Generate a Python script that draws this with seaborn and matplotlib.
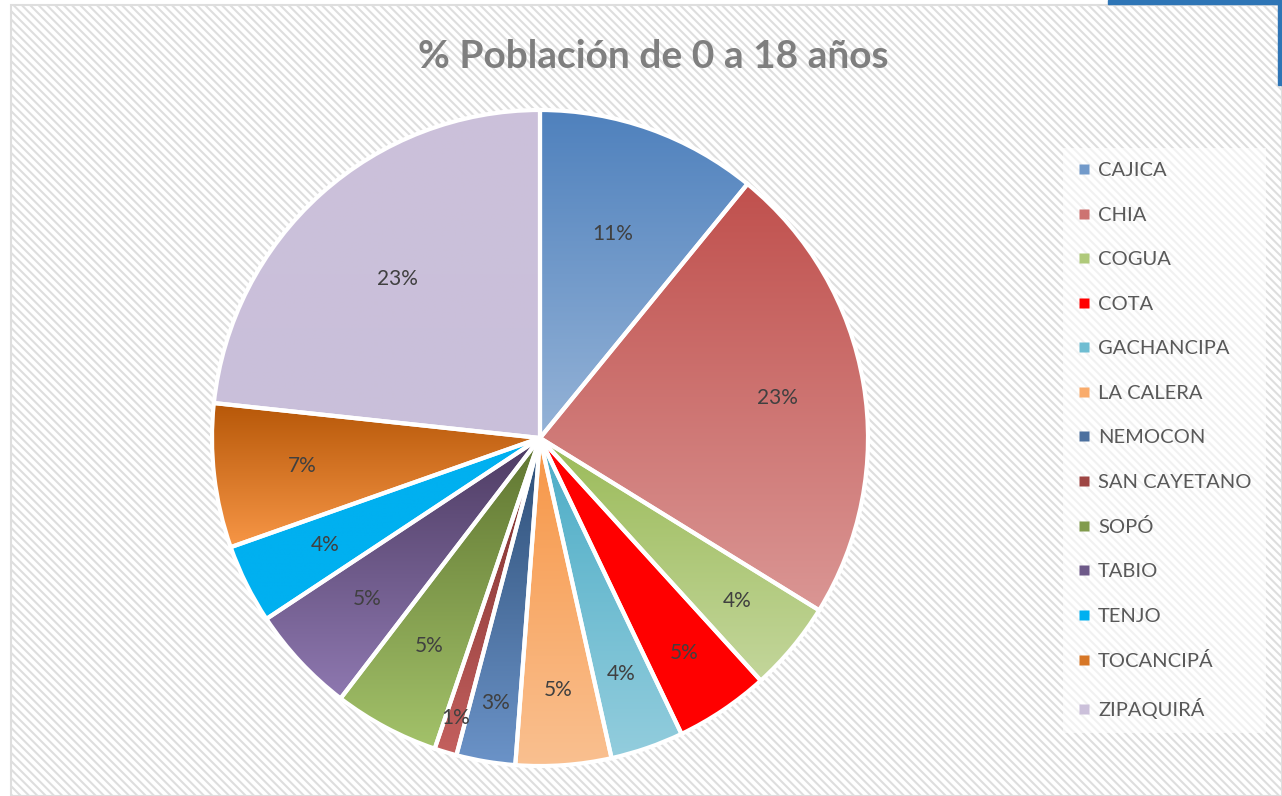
import numpy as np
import matplotlib.pyplot as plt
import seaborn as sns
from matplotlib.colors import LinearSegmentedColormap, to_rgb
from matplotlib.patches import Rectangle
from matplotlib.lines import Line2D

# ── Data ───────────────────────────────────────────────────────────────────────
MUNICIPIOS = ["CAJICA", "CHIA", "COGUA", "COTA", "GACHANCIPA", "LA CALERA",
              "NEMOCON", "SAN CAYETANO", "SOPÓ", "TABIO", "TENJO",
              "TOCANCIPÁ", "ZIPAQUIRÁ"]
PCT_0_18 = [10.9, 22.9, 4.45, 4.65, 3.6, 4.7, 2.9, 1.1, 5.2, 5.3, 3.9, 7.1, 23.3]

# gradient top -> bottom for each slice (Excel "linear down")
TOP_COLORS = ["#4F81BD", "#C0504D", "#9BBB59", "#FF0000", "#4BACC6", "#F79646",
              "#2C4D75", "#772C2A", "#5F7530", "#4D3B62", "#00B0F0", "#B65708",
              "#CCC1DA"]
BOT_COLORS = ["#95B3D7", "#DA9694", "#C3D69B", "#FF0000", "#93CDDD", "#FAC090",
              "#6B93C8", "#C4605E", "#A3C26A", "#8E78B0", "#00B0F0", "#F79646",
              "#C9BFDA"]
# radial position of each % label (fraction of radius)
LABEL_R = [0.66, 0.735, 0.78, 0.79, 0.76, 0.77, 0.82, 0.89, 0.72, 0.72, 0.73,
           0.73, 0.65]

# ── Setup ──────────────────────────────────────────────────────────────────────
sns.set_theme(style="white")
plt.rcParams["font.family"] = ["Lato", "DejaVu Sans"]
plt.rcParams["hatch.linewidth"] = 1.5

W, H = 1282, 796
fig = plt.figure(figsize=(W / 100, H / 100), dpi=100)
fig.patch.set_facecolor("white")

# hatched chart area with thin grey border
bg = Rectangle((11 / W, 0), 1 - 11 / W, 1 - 5 / H, transform=fig.transFigure,
               facecolor="white", edgecolor="#dedede", hatch="\\\\\\\\",
               linewidth=1.5, zorder=-5)
fig.patches.append(bg)
# excel selection border top right
fig.patches.append(Rectangle((1108 / W, 1 - 4 / H), 1 - 1108 / W, 4 / H,
                             transform=fig.transFigure, color="#2E75B6", zorder=-4))
fig.patches.append(Rectangle((1 - 4 / W, 1 - 85 / H), 4 / W, 85 / H,
                             transform=fig.transFigure, color="#2E75B6", zorder=-4))

# ── Pie ────────────────────────────────────────────────────────────────────────
cx, cy, R = 540, 438, 328
ax = fig.add_axes([(cx - R) / W, (H - cy - R) / H, 2 * R / W, 2 * R / H])
ax.set_facecolor("none")

wedges, texts, autotexts = ax.pie(
    PCT_0_18, startangle=90, counterclock=False, autopct="%1.0f%%",
    colors=TOP_COLORS, wedgeprops=dict(edgecolor="white", linewidth=3),
    textprops=dict(color="#404040", fontsize=15))

grad = np.linspace(0, 1, 256).reshape(-1, 1)
for w, top, bot in zip(wedges, TOP_COLORS, BOT_COLORS):
    ext = w.get_path().get_extents()
    cmap = LinearSegmentedColormap.from_list("g", [bot, top])
    im = ax.imshow(grad, cmap=cmap, origin="lower", aspect="auto",
                   interpolation="bilinear",
                   extent=(ext.x0, ext.x1, ext.y0, ext.y1), zorder=1)
    im.set_clip_path(w)
    w.set_facecolor("none")
    w.set_zorder(2)
    w.set_clip_on(False)

for w, t, r in zip(wedges, autotexts, LABEL_R):
    ang = np.deg2rad((w.theta1 + w.theta2) / 2)
    t.set_position((r * np.cos(ang), r * np.sin(ang)))
    t.set_zorder(3)

ax.set_xlim(-1, 1)
ax.set_ylim(-1, 1)
ax.set_aspect("equal")
ax.axis("off")

# ── Title & legend ─────────────────────────────────────────────────────────────
fig.text(653 / W, 1 - 56 / H, "% Población de 0 a 18 años", ha="center",
         va="center", fontsize=28, fontweight="bold", color="#7F7F7F")

mid = [tuple((np.array(to_rgb(a)) + np.array(to_rgb(b))) / 2)
       for a, b in zip(TOP_COLORS, BOT_COLORS)]
handles = [Line2D([], [], marker="s", linestyle="none", markersize=6.5,
                  markerfacecolor=c, markeredgecolor="none") for c in mid]
leg = fig.legend(handles, MUNICIPIOS, loc="upper left",
                 bbox_to_anchor=(1063 / W, 1 - 148 / H), frameon=True,
                 fontsize=14.5, labelspacing=1.36, handlelength=0.7,
                 handletextpad=0.35, borderpad=0.7, borderaxespad=0,
                 labelcolor="#595959", fancybox=False)
leg.get_frame().set_facecolor("white")
leg.get_frame().set_alpha(0.6)
leg.get_frame().set_edgecolor("none")

fig.savefig("out.png", dpi=100)
